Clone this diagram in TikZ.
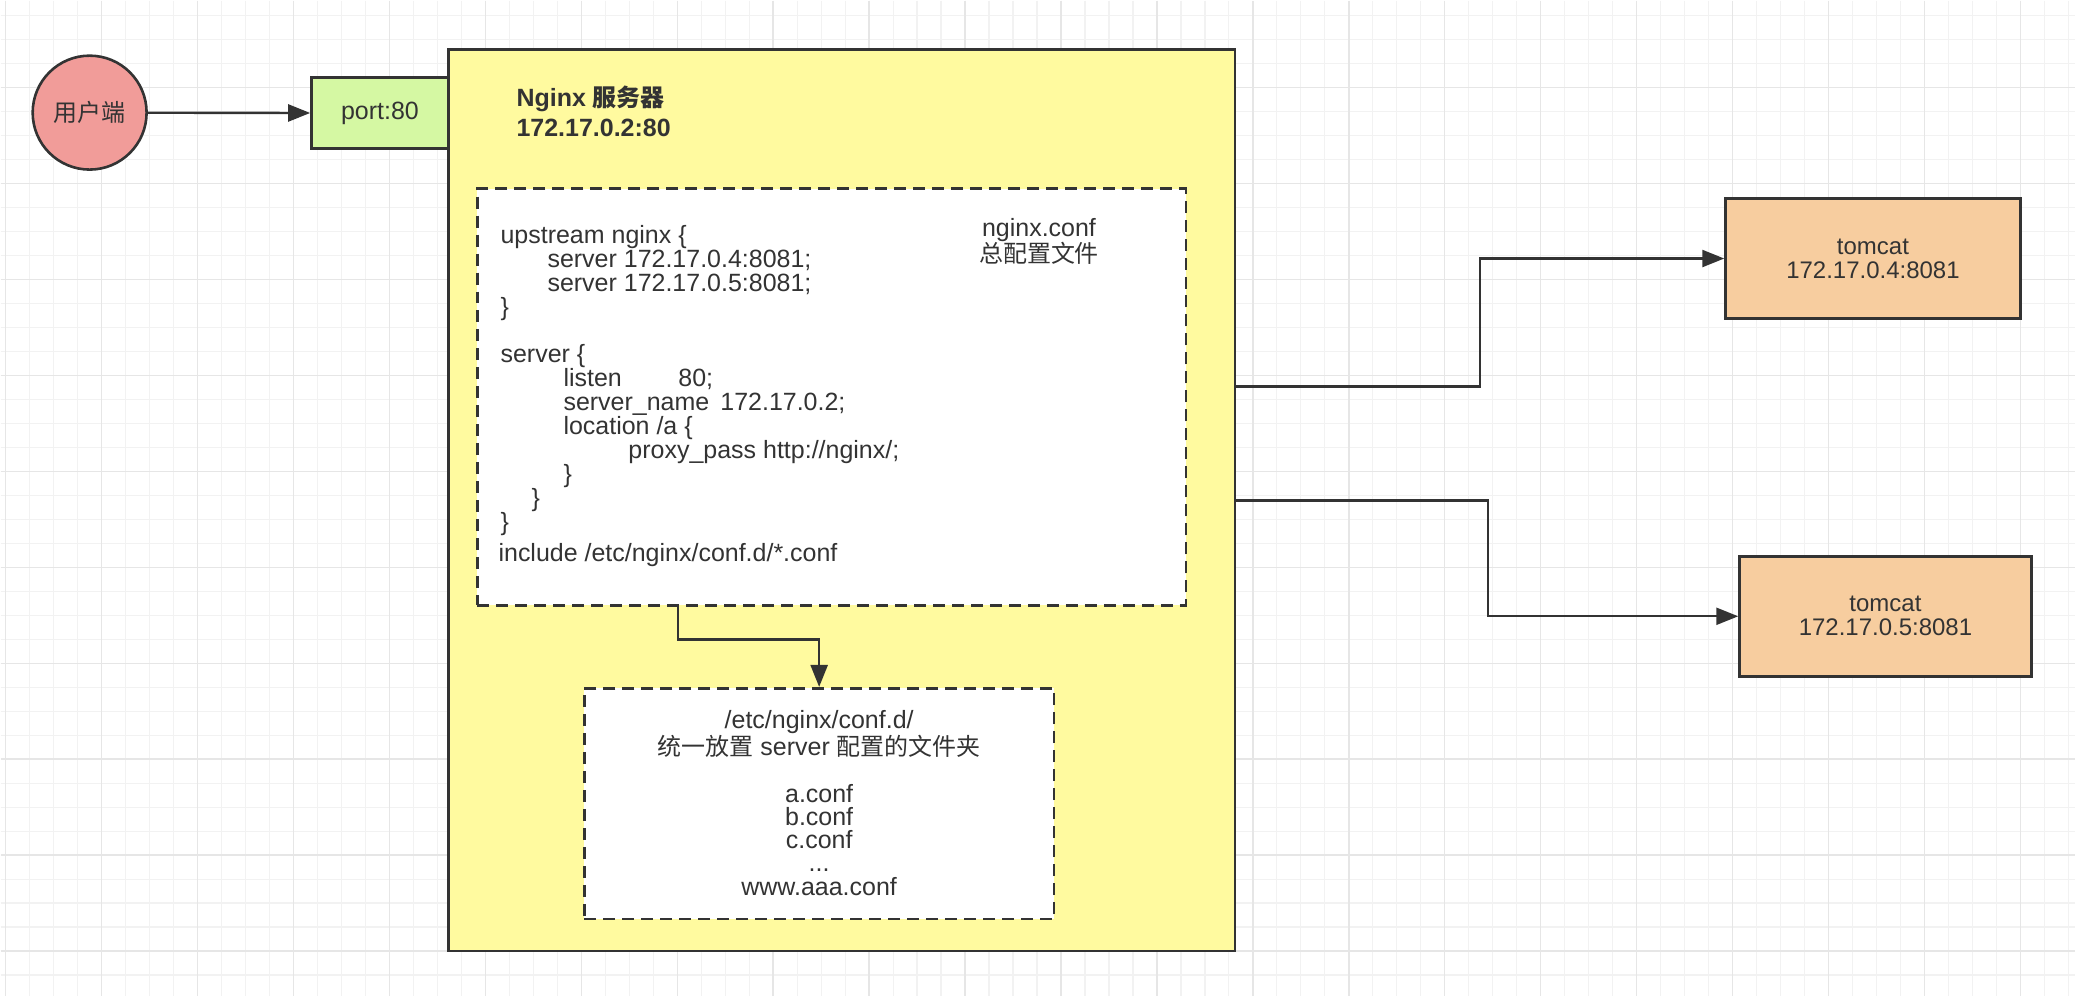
\documentclass[tikz,border=0pt]{standalone}
\usepackage{fontspec}
\setmainfont{Liberation Sans}
\newfontfamily\cjk[Scale=0.96]{Noto Sans CJK SC}
\usetikzlibrary{arrows.meta}
\definecolor{tc}{HTML}{333333}
\definecolor{lc}{HTML}{333333}
\definecolor{gridminor}{HTML}{F2F2F2}
\definecolor{gridmajor}{HTML}{E6E6E6}
\definecolor{userfill}{HTML}{F19C99}
\definecolor{portfill}{HTML}{D5F8A3}
\definecolor{nginxfill}{HTML}{FFFA9F}
\definecolor{tomfill}{HTML}{F7CD9F}
\tikzset{
  txt/.style={text=tc, font=\fontsize{25}{25}\selectfont, inner sep=0pt},
  codeline/.style={txt, anchor=base west},
  box/.style={draw=lc, line width=2.6pt, inner sep=0pt},
  dbox/.style={box, fill=white, dash pattern=on 12pt off 7pt},
  arr/.style={draw=lc, line width=2.4pt, -{Triangle[length=22pt,width=17pt]}},
}
\begin{document}
\begin{tikzpicture}[x=1pt,y=-1pt]
% background and grid
\fill[white] (0,0) rectangle (2076,996);
\foreach \gx in {5,29,...,2076} \draw[gridminor, line width=1.2pt] (\gx,0) -- (\gx,996);
\foreach \gy in {15,39,...,996} \draw[gridminor, line width=1.2pt] (0,\gy) -- (2076,\gy);
\foreach \gx in {5,101,...,2076} \draw[gridmajor, line width=1.4pt] (\gx,0) -- (\gx,996);
\foreach \gy in {87,183,...,996} \draw[gridmajor, line width=1.4pt] (0,\gy) -- (2076,\gy);
\useasboundingbox (0,0) rectangle (2076,996);

% main boxes
\node[box, fill=nginxfill, minimum width=787pt, minimum height=902pt] (nginx) at (841.5,500) {};
\node[box, fill=portfill, minimum width=137pt, minimum height=71pt, txt] (port) at (379.5,112.5) {port:80};
\node[box, circle, fill=userfill, minimum size=114pt, txt] (user) at (89,112) {\cjk 用户端};

\node[txt, anchor=west, align=left, font=\fontsize{25}{30}\selectfont\bfseries] (title) at (516,111) {Nginx {\cjk 服务器}\\172.17.0.2:80};

% nginx.conf
\node[dbox, minimum width=709pt, minimum height=417pt] (conf) at (831.5,396.5) {};
\node[txt, align=center] (conflabel) at (1039,241) {nginx.conf\\{\cjk 总配置文件}};
\node[codeline] (c1) at (500,243) {upstream nginx \{};
\node[codeline] (c2) at (547,267) {server 172.17.0.4:8081;};
\node[codeline] (c3) at (547,291) {server 172.17.0.5:8081;};
\node[codeline] (c4) at (500,315) {\}};
\node[codeline] (c5) at (500,362) {server \{};
\node[codeline] (c6) at (563,386) {\makebox[115pt][l]{listen}80;};
\node[codeline] (c7) at (563,410) {\makebox[157pt][l]{server\_name}172.17.0.2;};
\node[codeline] (c8) at (563,434) {location /a \{};
\node[codeline] (c9) at (628,458) {proxy\_pass http://nginx/;};
\node[codeline] (c10) at (563,482) {\}};
\node[codeline] (c11) at (531,506) {\}};
\node[codeline] (c12) at (500,530) {\}};
\node[codeline] (c13) at (498,561) {include /etc/nginx/conf.d/*.conf};

% conf.d
\node[dbox, minimum width=470pt, minimum height=231pt] (confd) at (819,803.5) {};
\node[txt, align=center, font=\fontsize{25}{23.3}\selectfont] (confdlabel) at (819,803)
  {/etc/nginx/conf.d/\\{\cjk 统一放置} server {\cjk 配置的文件夹}\\[23.3pt]a.conf\\b.conf\\c.conf\\...\\www.aaa.conf};

% tomcats
\node[box, fill=tomfill, minimum width=295pt, minimum height=120pt, txt, font=\fontsize{24}{24}\selectfont, align=center] (tc1) at (1873.5,258) {tomcat\\172.17.0.4:8081};
\node[box, fill=tomfill, minimum width=292pt, minimum height=120pt, txt, font=\fontsize{24}{24}\selectfont, align=center] (tc2) at (1886,616) {tomcat\\172.17.0.5:8081};

% connectors
\draw[arr] (user) -- (port);
\draw[arr] ([xshift=202pt]conf.south west) -- ++(0,33) -| (confd.north);
\draw[arr] ([yshift=114pt]nginx.east) -- ++(244,0) |- (tc1.west);
\draw[arr] (nginx.east) -- ++(252,0) |- (tc2.west);
\end{tikzpicture}
\end{document}
